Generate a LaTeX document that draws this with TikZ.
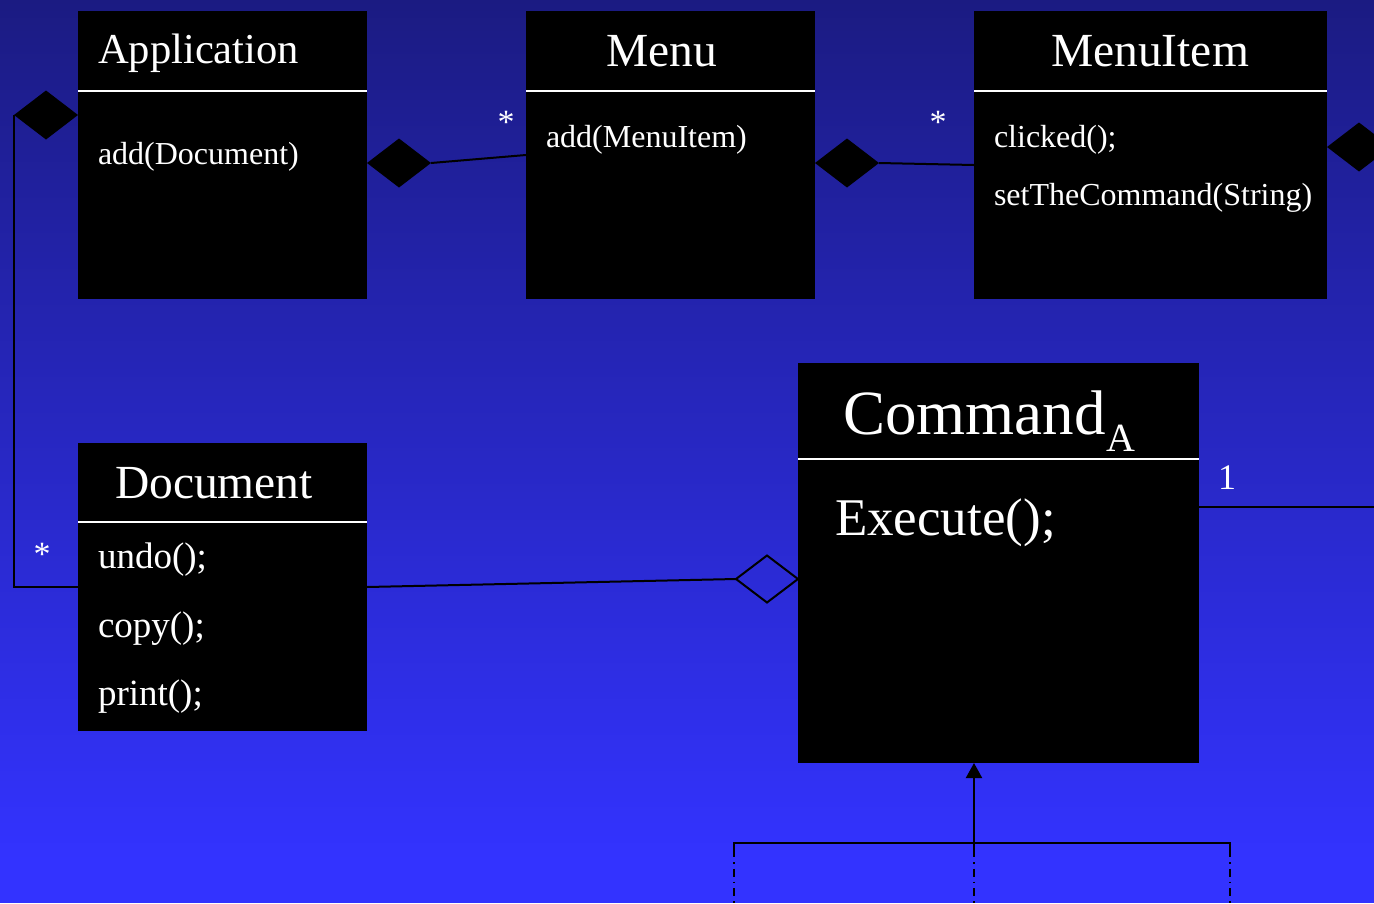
\documentclass[tikz,border=0pt]{standalone}
\usepackage{fontspec}
\setmainfont{Liberation Serif}
\usetikzlibrary{shapes.geometric,arrows.meta}

\definecolor{bgtop}{RGB}{27,27,130}
\definecolor{bgbot}{RGB}{51,51,255}
\newcommand\fsz[1]{\fontsize{#1}{#1}\selectfont}

\tikzset{
  classbox/.style={fill=black, inner sep=0pt, outer sep=0pt, anchor=north west},
  sepline/.style={white, line width=2pt},
  link/.style={black, line width=2pt},
  filleddiamond/.style={diamond, fill=black, inner sep=0pt, outer sep=0pt,
    minimum width=64pt, minimum height=49pt},
  hollowdiamond/.style={diamond, draw=black, line width=2pt, inner sep=0pt,
    outer sep=0pt, minimum width=62pt, minimum height=47pt},
  txt/.style={text=white, inner sep=0pt, outer sep=0pt, anchor=base west},
  ctxt/.style={txt, anchor=base},
  dashdot/.style={black, line width=2pt, dash pattern=on 8pt off 5pt on 1.5pt off 5pt},
}

\begin{document}
\begin{tikzpicture}[x=1pt, y=-1pt]
\useasboundingbox (0,0) rectangle (1374,903);
\clip (0,0) rectangle (1374,903);

% background gradient
\shade[top color=bgtop, bottom color=bgbot] (0,0) rectangle (1374,860);
\fill[bgbot] (0,859) rectangle (1374,903);

% class boxes
\node[classbox, minimum width=289pt, minimum height=288pt] (app)  at (78,11)  {};
\node[classbox, minimum width=289pt, minimum height=288pt] (menu) at (526,11) {};
\node[classbox, minimum width=353pt, minimum height=288pt] (item) at (974,11) {};
\node[classbox, minimum width=289pt, minimum height=288pt] (doc)  at (78,443) {};
\node[classbox, minimum width=401pt, minimum height=400pt] (cmd)  at (798,363) {};

% compartment separators
\draw[sepline] ([yshift=-80pt]app.north west)  -- ([yshift=-80pt]app.north east);
\draw[sepline] ([yshift=-80pt]menu.north west) -- ([yshift=-80pt]menu.north east);
\draw[sepline] ([yshift=-80pt]item.north west) -- ([yshift=-80pt]item.north east);
\draw[sepline] ([yshift=-79pt]doc.north west)  -- ([yshift=-79pt]doc.north east);
\draw[sepline] ([yshift=-96pt]cmd.north west)  -- ([yshift=-96pt]cmd.north east);

% class names and operations
\node[txt, font=\fsz{42.6}] (appT) at (98,63) {Application};
\node[txt, font=\fsz{32}] (appM) at (98,164) {add(Document)};

\node[ctxt, font=\fsz{47.5}] (menuT) at (662,66) {Menu};
\node[txt, font=\fsz{32}] (menuM) at (546,147) {add(MenuItem)};

\node[ctxt, font=\fsz{47.5}] (itemT) at (1150,66) {MenuItem};
\node[txt, font=\fsz{32}] (itemM1) at (994,147) {clicked();};
\node[txt, font=\fsz{32}] (itemM2) at (994,205) {setTheCommand(String)};

\node[txt, font=\fsz{47.5}] (docT) at (115,498) {Document};
\node[txt, font=\fsz{37}] (docM1) at (98,568) {undo();};
\node[txt, font=\fsz{37}] (docM2) at (98,637) {copy();};
\node[txt, font=\fsz{37}] (docM3) at (98,705) {print();};

\node[txt, font=\fsz{63}] (cmdT) at (843,434) {Command\hspace{1pt}\raisebox{-17pt}{\fsz{40}A}};
\node[txt, font=\fsz{53}] (cmdM) at (835,535) {Execute();};

% aggregation diamonds
\node[filleddiamond, anchor=east] (dA) at ([yshift=-104pt]app.north west) {};
\node[filleddiamond, anchor=west] (dB) at ([yshift=-8pt]app.east) {};
\node[filleddiamond, anchor=west] (dC) at ([yshift=-8pt]menu.east) {};
\node[filleddiamond, anchor=west] (dD) at ([yshift=8pt]item.east) {};
\node[hollowdiamond, anchor=east] (dE) at ([yshift=-16pt]cmd.west) {};

% associations
\draw[link] (dA.west) |- (doc.west);
\draw[link] (dB.east) -- (menu.west);
\draw[link] (dC.east) -- ([yshift=-10pt]item.west);
\draw[link] (doc.east) -- (dE.west);
\coordinate (cmdOut) at (1374,507);
\draw[link] ([yshift=56pt]cmd.east) -- (cmdOut);

% multiplicities
\node[ctxt, font=\fsz{34}] (m1) at (506,133) {*};
\node[ctxt, font=\fsz{34}] (m2) at (938,133) {*};
\node[ctxt, font=\fsz{34}] (m3) at (42,565) {*};
\node[ctxt, font=\fsz{36}] (m4) at (1227,489) {1};

% generalization tree
\coordinate (jn) at (974,843);
\coordinate (jl) at (734,843);
\coordinate (jr) at (1230,843);
\draw[link, -{Triangle[width=16pt,length=15pt]}] (jn) -- ([xshift=-24.5pt]cmd.south);
\draw[link] ([yshift=-6pt]jl) -- (jl) -- (jr) -- ([yshift=-6pt]jr);
\draw[link] (jn) -- ([yshift=-6pt]jn);
\draw[dashdot] ([yshift=-6pt]jl) -- ++(0,60);
\draw[dashdot] ([yshift=-6pt]jn) -- ++(0,60);
\draw[dashdot] ([yshift=-6pt]jr) -- ++(0,60);
\end{tikzpicture}
\end{document}
